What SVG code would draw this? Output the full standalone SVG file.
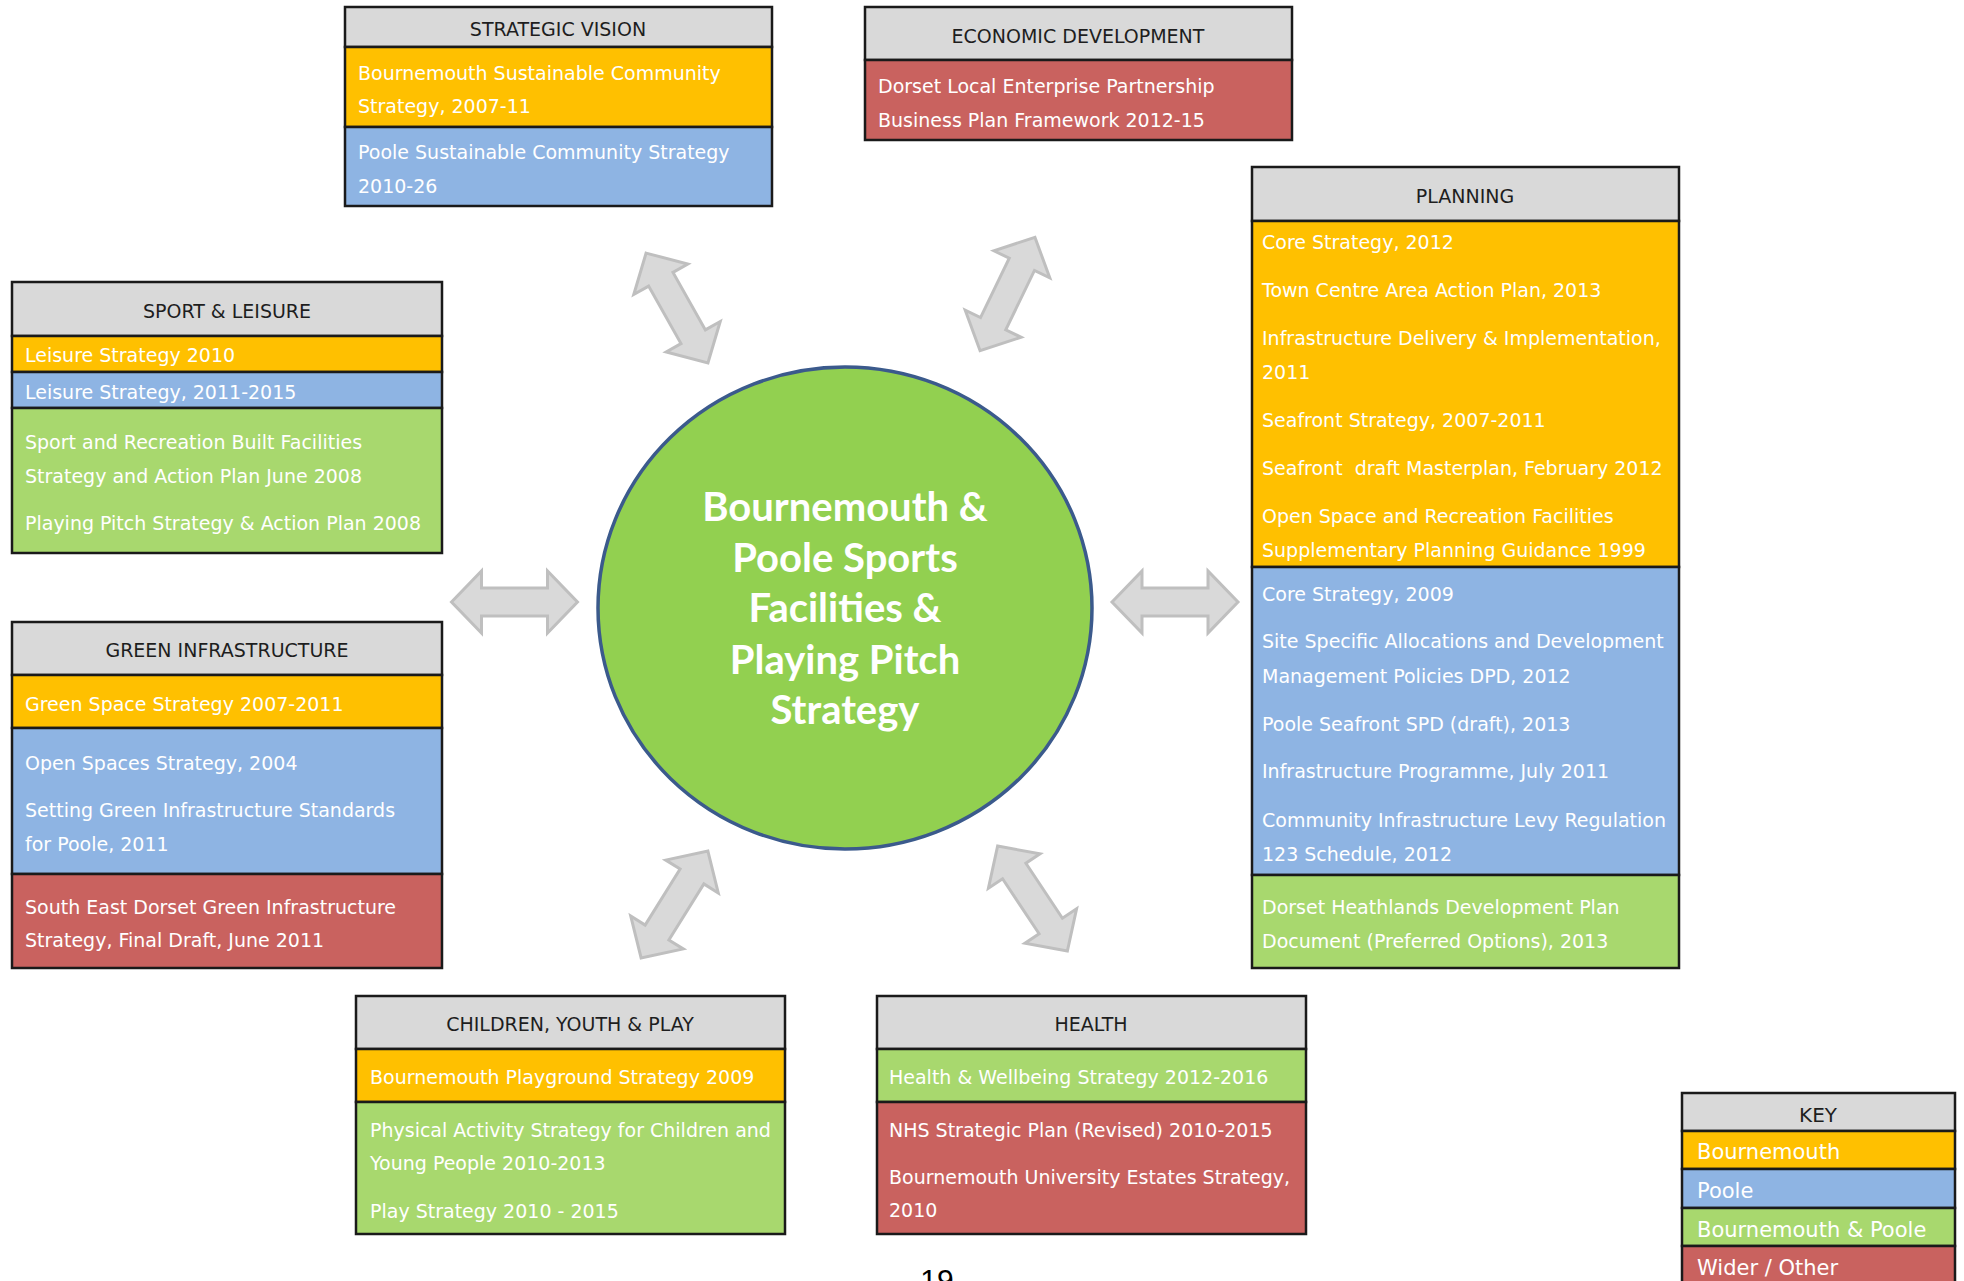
<svg xmlns="http://www.w3.org/2000/svg" xmlns:xlink="http://www.w3.org/1999/xlink" width="1964" height="1281" viewBox="0 0 1964 1281">
<style>
.box{stroke:#1a1a1a;stroke-width:2.5}
.hd{fill:#d9d9d9}
.or{fill:#ffc000}
.bl{fill:#8eb4e3}
.gr{fill:#a8d86e}
.rd{fill:#c9625f}
.ht{font-family:"DejaVu Sans",Verdana,sans-serif;font-size:19px;fill:#1e1e1e;text-anchor:middle}
.t{font-family:"DejaVu Sans",Verdana,sans-serif;font-size:19px;fill:#ffffff}
.k{font-family:"DejaVu Sans",Verdana,sans-serif;font-size:21px;fill:#ffffff}
.ct{font-family:Lato,"Open Sans",sans-serif;font-weight:bold;font-size:40px;fill:#ffffff;text-anchor:middle}
.arr{fill:#d9d9d9;stroke:#bfbfbf;stroke-width:3;stroke-linejoin:miter}
</style>
<defs>
<path id="dbl" d="M -63,0 L -33,-31 L -33,-14 L 33,-14 L 33,-31 L 63,0 L 33,31 L 33,14 L -33,14 L -33,31 Z"/>
</defs>
<rect x="0" y="0" width="1964" height="1281" fill="#ffffff"/>

<g id="connectors">
<use xlink:href="#dbl" class="arr" transform="translate(514.5,602)"/>
<use xlink:href="#dbl" class="arr" transform="translate(1175,602)"/>
<use xlink:href="#dbl" class="arr" transform="translate(677,308) rotate(60.6)"/>
<use xlink:href="#dbl" class="arr" transform="translate(1007.5,294) rotate(115.8)"/>
<use xlink:href="#dbl" class="arr" transform="translate(674.5,904.5) rotate(122)"/>
<use xlink:href="#dbl" class="arr" transform="translate(1032.5,898.5) rotate(56.4)"/>
</g>

<g id="center">
<ellipse cx="845" cy="608" rx="247" ry="241" fill="#92d050" stroke="#3b5a8c" stroke-width="3.5"/>
<text class="ct" x="845" y="521">Bournemouth &amp;</text>
<text class="ct" x="845" y="572">Poole Sports</text>
<text class="ct" x="845" y="622">Facilities &amp;</text>
<text class="ct" x="845" y="674">Playing Pitch</text>
<text class="ct" x="845" y="724">Strategy</text>
</g>

<g id="strategic-vision">
<rect class="box hd" x="345" y="7" width="427" height="40"/>
<rect class="box or" x="345" y="47" width="427" height="80"/>
<rect class="box bl" x="345" y="127" width="427" height="79"/>
<text class="ht" x="558" y="36">STRATEGIC VISION</text>
<text class="t" x="358" y="80">Bournemouth Sustainable Community</text>
<text class="t" x="358" y="113">Strategy, 2007-11</text>
<text class="t" x="358" y="159">Poole Sustainable Community Strategy</text>
<text class="t" x="358" y="193">2010-26</text>
</g>

<g id="economic-development">
<rect class="box hd" x="865" y="7" width="427" height="53"/>
<rect class="box rd" x="865" y="60" width="427" height="80"/>
<text class="ht" x="1078" y="43">ECONOMIC DEVELOPMENT</text>
<text class="t" x="878" y="93">Dorset Local Enterprise Partnership</text>
<text class="t" x="878" y="127">Business Plan Framework 2012-15</text>
</g>

<g id="sport-leisure">
<rect class="box hd" x="12" y="282" width="430" height="54"/>
<rect class="box or" x="12" y="336" width="430" height="36"/>
<rect class="box bl" x="12" y="372" width="430" height="36"/>
<rect class="box gr" x="12" y="408" width="430" height="145"/>
<text class="ht" x="227" y="318">SPORT &amp; LEISURE</text>
<text class="t" x="25" y="362">Leisure Strategy 2010</text>
<text class="t" x="25" y="399">Leisure Strategy, 2011-2015</text>
<text class="t" x="25" y="449">Sport and Recreation Built Facilities</text>
<text class="t" x="25" y="483">Strategy and Action Plan June 2008</text>
<text class="t" x="25" y="530">Playing Pitch Strategy &amp; Action Plan 2008</text>
</g>

<g id="green-infrastructure">
<rect class="box hd" x="12" y="622" width="430" height="53"/>
<rect class="box or" x="12" y="675" width="430" height="53"/>
<rect class="box bl" x="12" y="728" width="430" height="146"/>
<rect class="box rd" x="12" y="874" width="430" height="94"/>
<text class="ht" x="227" y="657">GREEN INFRASTRUCTURE</text>
<text class="t" x="25" y="711">Green Space Strategy 2007-2011</text>
<text class="t" x="25" y="770">Open Spaces Strategy, 2004</text>
<text class="t" x="25" y="817">Setting Green Infrastructure Standards</text>
<text class="t" x="25" y="851">for Poole, 2011</text>
<text class="t" x="25" y="914">South East Dorset Green Infrastructure</text>
<text class="t" x="25" y="947">Strategy, Final Draft, June 2011</text>
</g>

<g id="planning">
<rect class="box hd" x="1252" y="167" width="427" height="54"/>
<rect class="box or" x="1252" y="221" width="427" height="346"/>
<rect class="box bl" x="1252" y="567" width="427" height="308"/>
<rect class="box gr" x="1252" y="875" width="427" height="93"/>
<text class="ht" x="1465" y="203">PLANNING</text>
<text class="t" x="1262" y="249">Core Strategy, 2012</text>
<text class="t" x="1262" y="297">Town Centre Area Action Plan, 2013</text>
<text class="t" x="1262" y="345">Infrastructure Delivery &amp; Implementation,</text>
<text class="t" x="1262" y="379">2011</text>
<text class="t" x="1262" y="427">Seafront Strategy, 2007-2011</text>
<text class="t" x="1262" y="475" xml:space="preserve">Seafront  draft Masterplan, February 2012</text>
<text class="t" x="1262" y="523">Open Space and Recreation Facilities</text>
<text class="t" x="1262" y="557">Supplementary Planning Guidance 1999</text>
<text class="t" x="1262" y="601">Core Strategy, 2009</text>
<text class="t" x="1262" y="648">Site Specific Allocations and Development</text>
<text class="t" x="1262" y="683">Management Policies DPD, 2012</text>
<text class="t" x="1262" y="731">Poole Seafront SPD (draft), 2013</text>
<text class="t" x="1262" y="778">Infrastructure Programme, July 2011</text>
<text class="t" x="1262" y="827">Community Infrastructure Levy Regulation</text>
<text class="t" x="1262" y="861">123 Schedule, 2012</text>
<text class="t" x="1262" y="914">Dorset Heathlands Development Plan</text>
<text class="t" x="1262" y="948">Document (Preferred Options), 2013</text>
</g>

<g id="children-youth-play">
<rect class="box hd" x="356" y="996" width="429" height="53"/>
<rect class="box or" x="356" y="1049" width="429" height="53"/>
<rect class="box gr" x="356" y="1102" width="429" height="132"/>
<text class="ht" x="570" y="1031">CHILDREN, YOUTH &amp; PLAY</text>
<text class="t" x="370" y="1084">Bournemouth Playground Strategy 2009</text>
<text class="t" x="370" y="1137">Physical Activity Strategy for Children and</text>
<text class="t" x="370" y="1170">Young People 2010-2013</text>
<text class="t" x="370" y="1218">Play Strategy 2010 - 2015</text>
</g>

<g id="health">
<rect class="box hd" x="877" y="996" width="429" height="53"/>
<rect class="box gr" x="877" y="1049" width="429" height="53"/>
<rect class="box rd" x="877" y="1102" width="429" height="132"/>
<text class="ht" x="1091" y="1031">HEALTH</text>
<text class="t" x="889" y="1084">Health &amp; Wellbeing Strategy 2012-2016</text>
<text class="t" x="889" y="1137">NHS Strategic Plan (Revised) 2010-2015</text>
<text class="t" x="889" y="1184">Bournemouth University Estates Strategy,</text>
<text class="t" x="889" y="1217">2010</text>
</g>

<g id="key">
<rect class="box hd" x="1682" y="1093" width="273" height="38"/>
<rect class="box or" x="1682" y="1131" width="273" height="38"/>
<rect class="box bl" x="1682" y="1169" width="273" height="39"/>
<rect class="box gr" x="1682" y="1208" width="273" height="38"/>
<rect class="box rd" x="1682" y="1246" width="273" height="50"/>
<text class="ht" x="1818" y="1122" style="font-size:20px">KEY</text>
<text class="k" x="1697" y="1159">Bournemouth</text>
<text class="k" x="1697" y="1198">Poole</text>
<text class="k" x="1697" y="1237">Bournemouth &amp; Poole</text>
<text class="k" x="1697" y="1275">Wider / Other</text>
</g>

<text x="937" y="1290" font-family="'Liberation Sans',Arial,sans-serif" font-size="30" fill="#000000" text-anchor="middle">19</text>
</svg>
